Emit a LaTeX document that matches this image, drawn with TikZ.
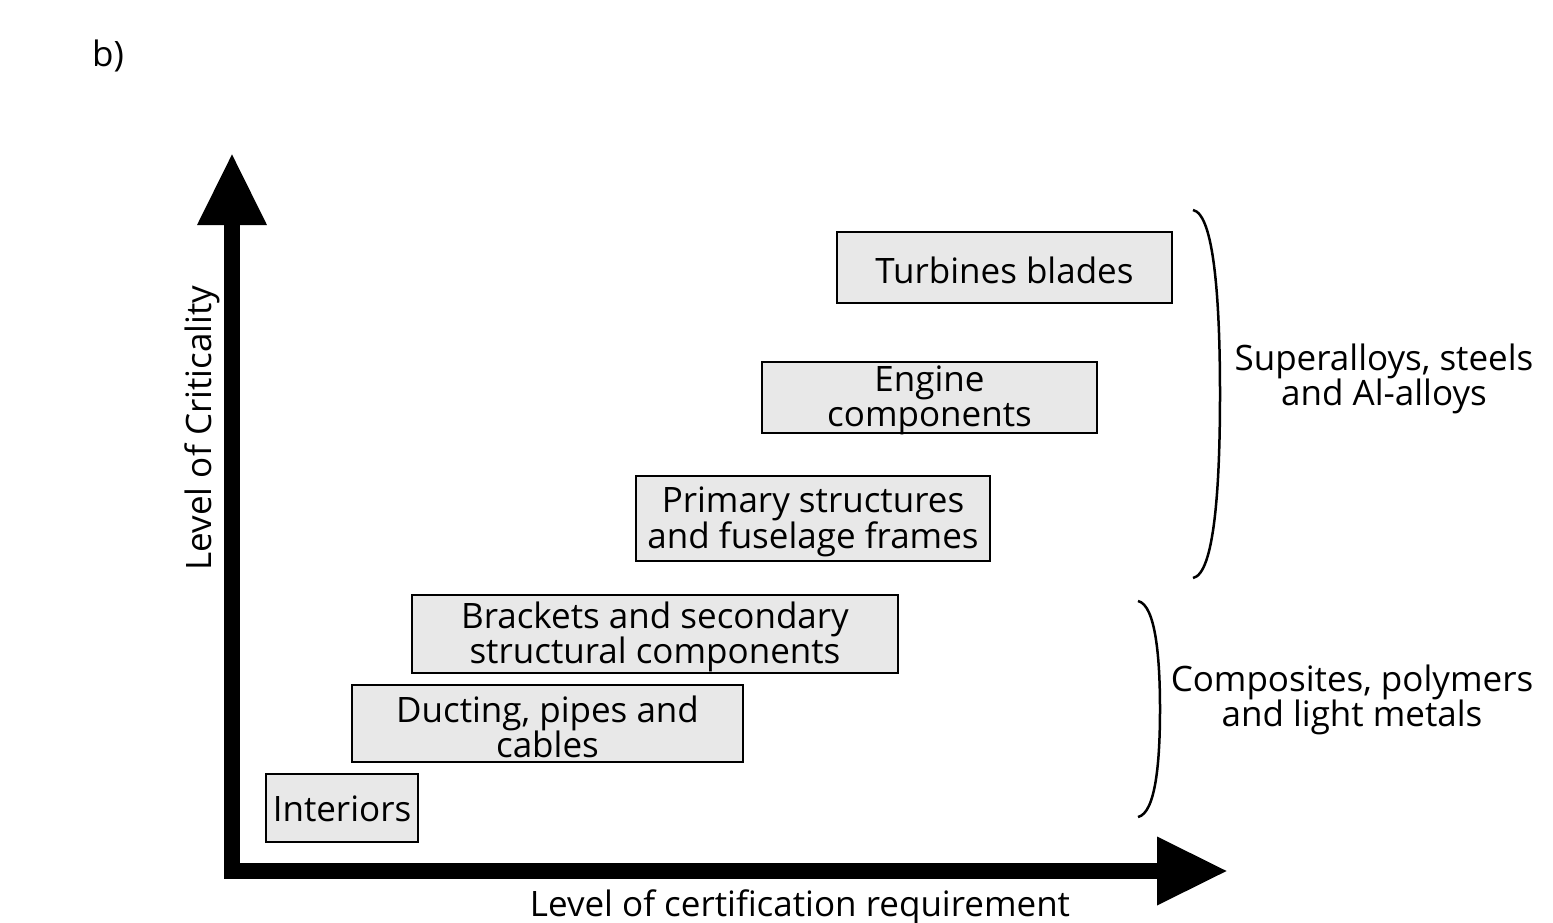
\documentclass[tikz,border=0pt]{standalone}
\usepackage{fontspec}
\setmainfont{Open Sans}
\usetikzlibrary{arrows.meta}
\begin{document}
\begin{tikzpicture}[x=1pt,y=-1pt,
  box/.style={draw=black,line width=2pt,fill=black!9,inner sep=0pt},
  lbl/.style={align=center,inner sep=0pt,font=\fontsize{35}{35}\selectfont},
  axis/.style={line width=16pt,line join=miter},
  brace/.style={line width=2.5pt}]
\useasboundingbox (0,0) rectangle (1553,923);
% axes
\coordinate (O) at (232,871);
\coordinate (Ytip) at (232,153);
\coordinate (Xtip) at (1228,871);
\draw[axis,{Triangle[length=72pt,width=65pt]}-{Triangle[length=71pt,width=64pt]}] (Ytip) -- (O) -- (Xtip);
% boxes
\node[box,minimum width=335pt,minimum height=71pt] (turb) at (1004.5,267.5) {};
\node[lbl] (turbt) at ([yshift=-3pt]turb.center) {Turbines blades};
\node[box,minimum width=335pt,minimum height=71pt] (eng) at (929.5,397.5) {};
\node[lbl] (engt) at ([yshift=-3pt]eng.center) {Engine\\components};
\node[box,minimum width=354pt,minimum height=85pt] (prim) at (813,518.5) {};
\node[lbl] (primt) at ([yshift=-3pt]prim.center) {Primary structures\\and fuselage frames};
\node[box,minimum width=486pt,minimum height=78pt] (brack) at (655,634) {};
\node[lbl] (brackt) at ([yshift=-3pt]brack.center) {Brackets and secondary\\structural components};
\node[box,minimum width=391pt,minimum height=77pt] (duct) at (547.5,723.5) {};
\node[lbl] (ductt) at ([yshift=-3pt]duct.center) {Ducting, pipes and\\cables};
\node[box,minimum width=152pt,minimum height=68pt] (inter) at (342,808) {};
\node[lbl] (intert) at ([yshift=-1pt]inter.center) {Interiors};
% braces
\coordinate (b1t) at (1193,210);
\coordinate (b1m) at (1220,394);
\coordinate (b1b) at (1193,578);
\draw[brace] (b1t) .. controls (1214,214) and (1220,300) .. (b1m) .. controls (1220,490) and (1214,574) .. (b1b);
\coordinate (b2t) at (1138,601);
\coordinate (b2m) at (1160,709);
\coordinate (b2b) at (1138,817);
\draw[brace] (b2t) .. controls (1156,605) and (1160,660) .. (b2m) .. controls (1160,760) and (1156,813) .. (b2b);
% labels
\node[lbl] (sup) at (1384,379) {Superalloys, steels\\and Al-alloys};
\node[lbl] (comp) at (1352,700) {Composites, polymers\\and light metals};
\node[lbl,rotate=90] (ylab) at (202,428) {Level of Criticality};
\node[lbl] (xlab) at (800,907) {Level of certification requirement};
\node[lbl] (b) at (108,56) {b)};
\end{tikzpicture}
\end{document}
